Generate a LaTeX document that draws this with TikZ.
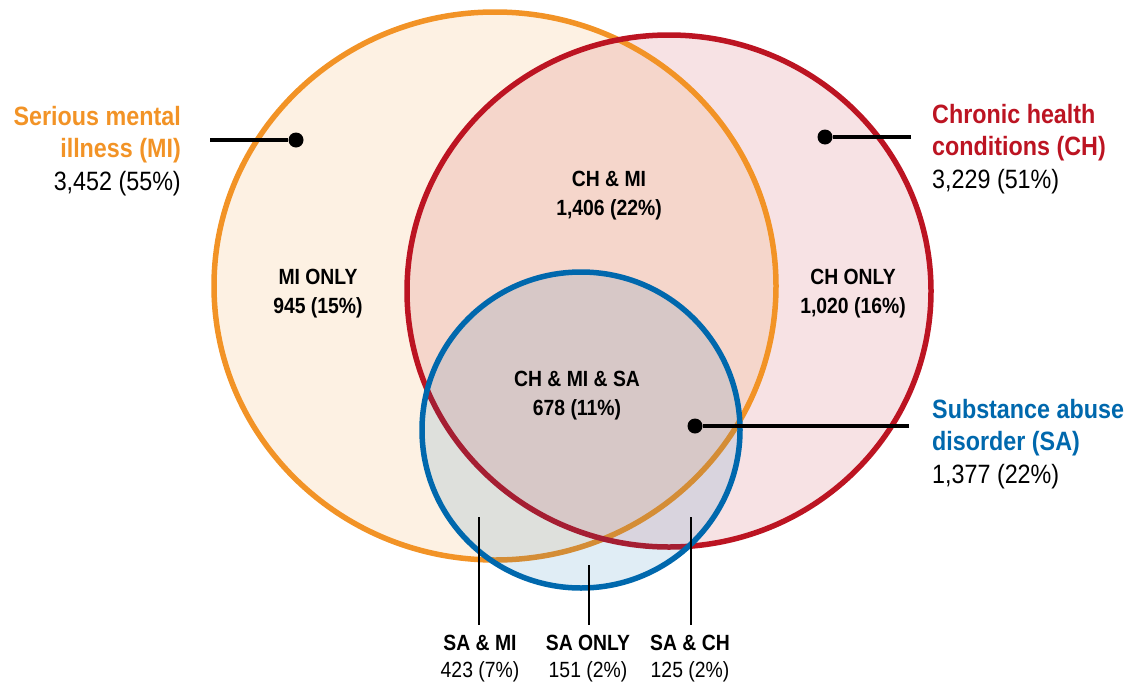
\documentclass[tikz,border=0pt]{standalone}
\usepackage{fontspec}
\setmainfont{Liberation Sans}[FakeStretch=0.88]
\definecolor{miorange}{HTML}{F29326}
\definecolor{chred}{HTML}{BC1422}
\definecolor{sablue}{HTML}{0068AD}
\tikzset{%
  setline/.style = {line width=5.5pt},%
  dot/.style     = {circle, fill=black, inner sep=0pt, minimum size=15pt},%
  pointer/.style = {line width=4.5pt},%
  leader/.style  = {line width=1.3pt},%
  title/.style   = {font=\fontsize{26.5}{32.5}\selectfont, inner sep=0pt},%
  region/.style  = {align=center, font=\fontsize{22}{29}\selectfont\bfseries, inner sep=0pt},%
  bottom/.style  = {align=center, anchor=base, font=\fontsize{22}{27}\selectfont, inner sep=0pt}%
}
\begin{document}
\begin{tikzpicture}[x=1pt,y=-1pt]
	\useasboundingbox (0,0) rectangle (1130,683);
	\coordinate (mi) at (495,286);
	\coordinate (ch) at (669,291);
	\coordinate (sa) at (581,430);
	% the three sets
	\fill [miorange, opacity=0.13] (mi) ellipse [x radius=281pt, y radius=274pt];
	\fill [chred, opacity=0.12] (ch) ellipse [x radius=262pt, y radius=256pt];
	\draw [setline, miorange] (mi) ellipse [x radius=281pt, y radius=274pt];
	\draw [setline, chred] (ch) ellipse [x radius=262pt, y radius=256pt];
	\fill [sablue, opacity=0.12] (sa) ellipse [x radius=159pt, y radius=158pt];
	\draw [setline, sablue] (sa) ellipse [x radius=159pt, y radius=158pt];
	% set names (base = last line)
	\node [title, anchor=base east, align=right] (milabel) at (181,190)
		{{\bfseries\color{miorange}Serious mental}\\{\bfseries\color{miorange}illness (MI)}\\3,452 (55\%)};
	\node [title, anchor=base west, align=left] (chlabel) at (932,188)
		{{\bfseries\color{chred}Chronic health}\\{\bfseries\color{chred}conditions (CH)}\\3,229 (51\%)};
	\node [title, anchor=base west, align=left] (salabel) at (932,483)
		{{\bfseries\color{sablue}Substance abuse}\\{\bfseries\color{sablue}disorder (SA)}\\1,377 (22\%)};
	\node [dot] (midot) at (296,140) {};
	\node [dot] (chdot) at (825,137) {};
	\node [dot] (sadot) at (695,426) {};
	\coordinate (miend) at (210,140);
	\coordinate (chend) at (911,137);
	\coordinate (saend) at (909,426);
	\draw [pointer] (miend) -- (midot);
	\draw [pointer] (chend) -- (chdot);
	\draw [pointer] (saend) -- (sadot);
	% regions
	\node [region, anchor=base] (chmi) at (609,215) {CH \& MI\\1,406 (22\%)};
	\node [region, anchor=base] (mionly) at (318,313) {MI ONLY\\945 (15\%)};
	\node [region, anchor=base] (chonly) at (853,313) {CH ONLY\\1,020 (16\%)};
	\node [region, anchor=base] (chmisa) at (577,415) {CH \& MI \& SA\\678 (11\%)};
	% small regions below
	\node [bottom] (sami) at (480,677) {{\bfseries SA \& MI}\\423 (7\%)};
	\node [bottom] (saonly) at (588,677) {{\bfseries SA ONLY}\\151 (2\%)};
	\node [bottom] (sach) at (690,677) {{\bfseries SA \& CH}\\125 (2\%)};
	\coordinate (samitop) at (479,517);
	\coordinate (saonlytop) at (589,565);
	\coordinate (sachtop) at (691,517);
	\draw [leader] (samitop) -- ([yshift=9pt]samitop |- sami.north);
	\draw [leader] (saonlytop) -- ([yshift=9pt]saonlytop |- saonly.north);
	\draw [leader] (sachtop) -- ([yshift=9pt]sachtop |- sach.north);
\end{tikzpicture}
\end{document}
